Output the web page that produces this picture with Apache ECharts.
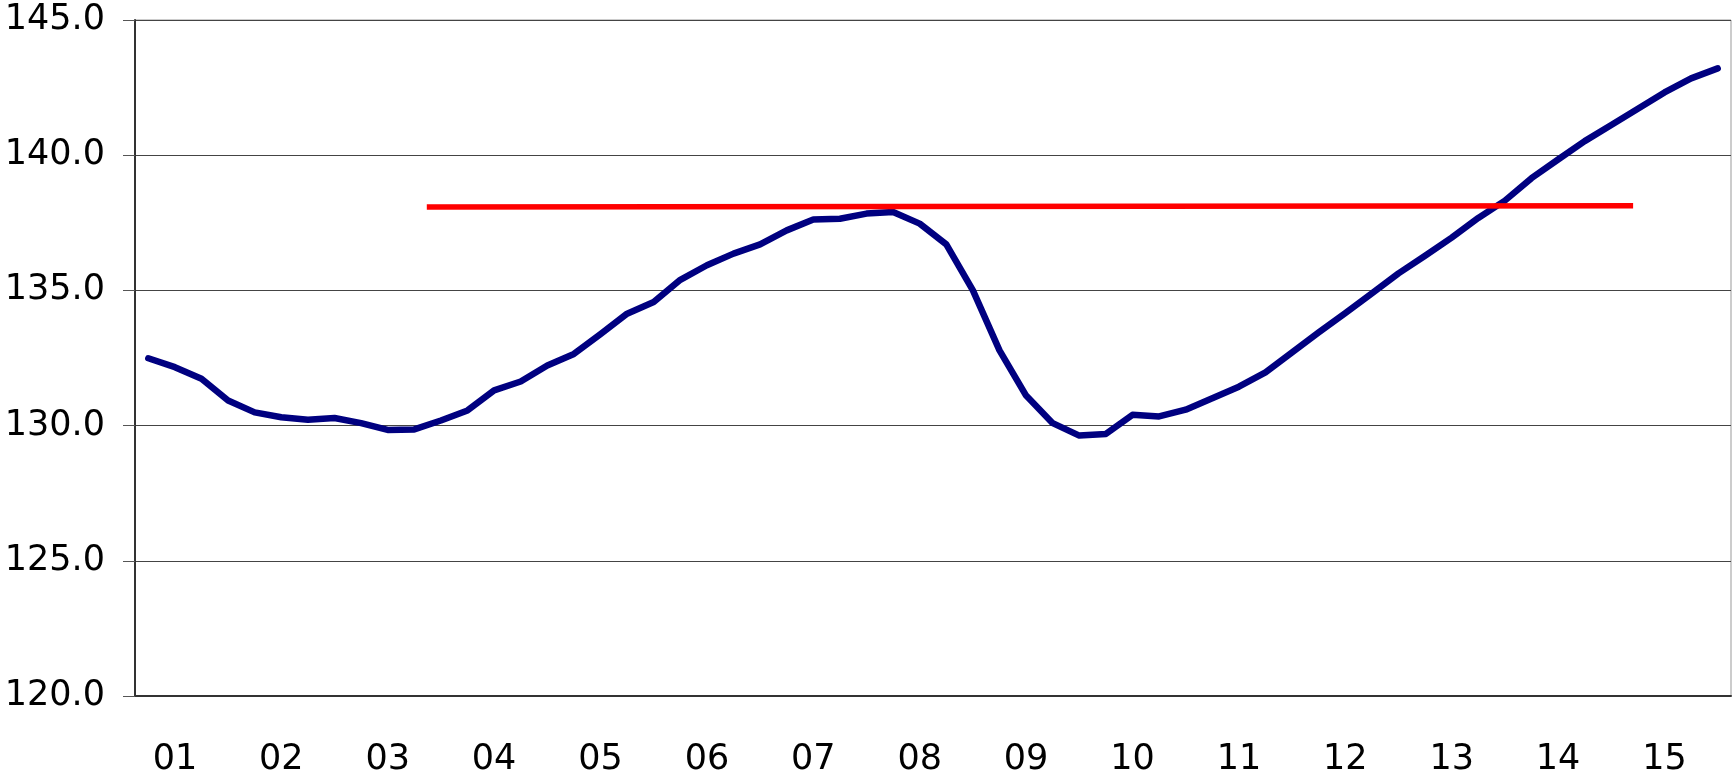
<!DOCTYPE html>
<html>
<head>
<meta charset="utf-8">
<script src="https://cdn.jsdelivr.net/npm/echarts@6/dist/echarts.min.js"></script>
<style>
  html, body { margin: 0; padding: 0; background: #fff; }
  #chart { width: 1732px; height: 775px; }
</style>
</head>
<body>
<div id="chart"></div>
<script>
var years = ['01', '02', '03', '04', '05', '06', '07', '08', '09', '10', '11', '12', '13', '14', '15'];

// quarterly index values
var values = [
  132.49, 132.16, 131.73, 130.93, 130.49, 130.31, 130.22, 130.28,
  130.09, 129.84, 129.86, 130.19, 130.56, 131.30, 131.63, 132.22,
  132.65, 133.38, 134.14, 134.57, 135.39, 135.93, 136.36, 136.70,
  137.22, 137.62, 137.65, 137.84, 137.90, 137.47, 136.70, 135.00,
  132.78, 131.11, 130.09, 129.63, 129.69, 130.40, 130.34, 130.59,
  131.01, 131.44, 131.97, 132.71, 133.45, 134.16, 134.89, 135.63,
  136.28, 136.95, 137.68, 138.32, 139.15, 139.84, 140.52, 141.12,
  141.72, 142.32, 142.84, 143.21
];

// red reference line, x in quarters from the start of 01
var refX = [10.97, 56.32];
var refY = [138.08, 138.13];

var categories = [];
years.forEach(function (y) {
  for (var q = 1; q <= 4; q++) categories.push(y + 'Q' + q);
});

var chartDom = document.getElementById('chart');
var myChart = echarts.init(chartDom);
var labelFont = { fontFamily: 'DejaVu Sans', fontSize: 35, color: '#000' };

var option = {
  animation: false,
  grid: {
    left: 135, right: 1, top: 20, bottom: 79,
    show: true, borderColor: '#999', borderWidth: 1,
    outerBoundsMode: 'none'
  },
  xAxis: [
    {
      type: 'category',
      data: categories,
      boundaryGap: true,
      axisLine: { lineStyle: { color: '#333', width: 2 } },
      axisTick: { interval: 0, length: 12, lineStyle: { color: '#333', width: 1 } },
      axisLabel: Object.assign({
        interval: function (idx) { return idx % 4 === 1; },
        formatter: function (v) { return v.slice(0, 2); },
        margin: 46
      }, labelFont),
      splitLine: { show: false }
    },
    {
      type: 'value',
      min: 0, max: 60,
      show: false
    }
  ],
  yAxis: {
    type: 'value',
    min: 120, max: 145, interval: 5,
    axisLine: { show: true, lineStyle: { color: '#333', width: 2 } },
    axisTick: { show: true, length: 12, lineStyle: { color: '#555' } },
    axisLabel: Object.assign({
      margin: 30,
      formatter: function (v) { return v.toFixed(1); }
    }, labelFont),
    splitLine: { lineStyle: { color: '#444', width: 1 } }
  },
  series: [
    {
      type: 'line',
      data: values,
      showSymbol: false,
      symbol: 'none',
      lineStyle: { color: '#000080', width: 6.5, cap: 'round', join: 'round' }
    },
    {
      type: 'line',
      xAxisIndex: 1,
      data: [[refX[0], refY[0]], [refX[1], refY[1]]],
      symbol: 'none',
      lineStyle: { color: '#ff0000', width: 5.5 }
    }
  ]
};

option && myChart.setOption(option);
</script>
</body>
</html>
